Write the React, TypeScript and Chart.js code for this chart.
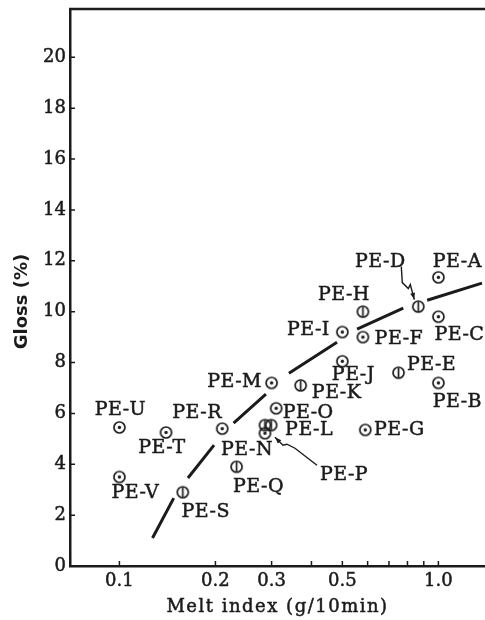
import { useEffect, useRef } from 'react';
import { Chart, registerables } from 'chart.js';

Chart.register(...registerables);

// Polyethylene grades: melt index (g/10min) vs. gloss (%)
const sampleNames = [
  'PE-A', 'PE-B', 'PE-C', 'PE-D', 'PE-E', 'PE-F', 'PE-G', 'PE-H', 'PE-I', 'PE-J', 'PE-K',
  'PE-L', 'PE-M', 'PE-N', 'PE-O', 'PE-P', 'PE-Q', 'PE-R', 'PE-S', 'PE-T', 'PE-U', 'PE-V',
];
const meltIndex = [
  1.0, 1.0, 1.0, 0.865, 0.75, 0.58, 0.59, 0.58, 0.5, 0.5, 0.37,
  0.299, 0.30, 0.286, 0.31, 0.286, 0.233, 0.21, 0.158, 0.14, 0.1, 0.1,
];
const gloss = [
  11.35, 7.2, 9.8, 10.2, 7.6, 9.0, 5.35, 10.0, 9.2, 8.05, 7.1,
  5.54, 7.2, 5.54, 6.2, 5.22, 3.9, 5.4, 2.9, 5.25, 5.45, 3.5,
];
// 'dot' = circle with centre dot, 'bar' = circle with vertical stroke
const markerKinds = [
  'dot', 'dot', 'dot', 'bar', 'bar', 'dot', 'dot', 'bar', 'dot', 'dot', 'bar',
  'bar', 'dot', 'bar', 'dot', 'dot', 'bar', 'dot', 'bar', 'dot', 'dot', 'dot',
];

// Trend curve, broken (null) where it passes the markers
const curveMeltIndex = [
  0.127, 0.148, 0.155, 0.164, 0.198, 0.21, 0.228, 0.288, 0.3,
  0.34, 0.481, 0.5, 0.556, 0.776, 0.85, 0.922, 1.37,
];
const curveGloss = [
  1.1, 2.67, null, 3.46, 4.75, null, 5.62, 6.76, null,
  7.58, 8.8, null, 9.31, 10.14, null, 10.45, 11.12,
];

const xTickValues = [0.1, 0.2, 0.3, 0.5, 1.0];
const xTickMarks = [0.1, 0.2, 0.3, 0.4, 0.5, 0.6, 0.7, 0.8, 0.9, 1.0];
const yTickValues = [0, 2, 4, 6, 8, 10, 12, 14, 16, 18, 20];

const xTitle = 'Melt index (g/10min)';
const yTitle = 'Gloss (%)';

// Label placement relative to each marker (px)
const labelOffsets: Record<string, [number, number]> = {
  'PE-A': [19, -15], 'PE-B': [19, 19], 'PE-C': [21, 18], 'PE-D': [-38, -45],
  'PE-E': [33, -8], 'PE-F': [36, 2], 'PE-G': [34, 0], 'PE-H': [-19, -17],
  'PE-I': [-34, -2], 'PE-J': [11, 14], 'PE-K': [36, 8], 'PE-L': [38, 5],
  'PE-M': [-37, -1], 'PE-N': [-18, 25], 'PE-O': [32, 5], 'PE-P': [79, 42],
  'PE-Q': [22, 20], 'PE-R': [-25, -16], 'PE-S': [23, 20], 'PE-T': [-4, 16],
  'PE-U': [1, -17], 'PE-V': [16, 16],
};

// Leader arrows, polyline offsets from the marker, last point is the tip
const arrows: Record<string, [number, number][]> = {
  'PE-D': [[-17, -40], [-16, -24], [-10, -18], [-8, -22], [-4, -7]],
  'PE-P': [[52, 32], [30, 15], [22, 11], [18, 12], [10, 4]],
};

const INK = '#1b1b1b';
const SERIF = '"DejaVu Serif", "Liberation Serif", serif';

function makeMarker(kind: string): HTMLCanvasElement {
  const c = document.createElement('canvas');
  c.width = 15;
  c.height = 15;
  const ctx = c.getContext('2d')!;
  ctx.strokeStyle = INK;
  ctx.fillStyle = INK;
  ctx.lineWidth = 1.7;
  ctx.beginPath();
  ctx.arc(7.5, 7.5, 5.5, 0, Math.PI * 2);
  ctx.stroke();
  if (kind === 'dot') {
    ctx.beginPath();
    ctx.arc(7.5, 7.5, 1.7, 0, Math.PI * 2);
    ctx.fill();
  } else {
    ctx.beginPath();
    ctx.moveTo(7.5, 2.5);
    ctx.lineTo(7.5, 12.5);
    ctx.stroke();
  }
  return c;
}

function boldText(ctx: CanvasRenderingContext2D, text: string, x: number, y: number) {
  ctx.fillText(text, x, y);
  ctx.lineWidth = 0.5;
  ctx.strokeText(text, x, y);
}

const annotationPlugin = {
  id: 'figureAnnotations',
  afterDraw(chart: any) {
    const { ctx, chartArea } = chart;
    const xs = chart.scales.x;
    const ys = chart.scales.y;
    ctx.save();
    ctx.strokeStyle = INK;
    ctx.fillStyle = INK;

    // top frame line
    ctx.lineWidth = 2.5;
    ctx.beginPath();
    ctx.moveTo(chartArea.left - 1, chartArea.top);
    ctx.lineTo(chartArea.right, chartArea.top);
    ctx.stroke();

    // inward tick marks
    ctx.lineWidth = 1.5;
    ctx.beginPath();
    for (const v of xTickMarks) {
      const px = xs.getPixelForValue(v);
      ctx.moveTo(px, chartArea.bottom);
      ctx.lineTo(px, chartArea.bottom - 5);
    }
    for (const v of yTickValues) {
      const py = ys.getPixelForValue(v);
      ctx.moveTo(chartArea.left, py);
      ctx.lineTo(chartArea.left + 5, py);
    }
    ctx.stroke();

    // tick labels
    ctx.font = `18px ${SERIF}`;
    ctx.textBaseline = 'middle';
    ctx.textAlign = 'right';
    for (const v of yTickValues) {
      boldText(ctx, String(v), chartArea.left - 4, ys.getPixelForValue(v));
    }
    ctx.textAlign = 'center';
    for (const v of xTickValues) {
      boldText(ctx, v.toFixed(1), xs.getPixelForValue(v), chartArea.bottom + 15);
    }

    // point labels
    ctx.font = `19px ${SERIF}`;
    ctx.textAlign = 'center';
    ctx.textBaseline = 'middle';
    (ctx as any).letterSpacing = '0.5px';
    sampleNames.forEach((name, i) => {
      const px = xs.getPixelForValue(meltIndex[i]);
      const py = ys.getPixelForValue(gloss[i]);
      const [dx, dy] = labelOffsets[name];
      boldText(ctx, name, px + dx, py + dy);
    });
    (ctx as any).letterSpacing = '0px';

    // leader arrows
    ctx.lineWidth = 1.4;
    Object.keys(arrows).forEach((name) => {
      const i = sampleNames.indexOf(name);
      const px = xs.getPixelForValue(meltIndex[i]);
      const py = ys.getPixelForValue(gloss[i]);
      const pts = arrows[name].map(([dx, dy]) => [px + dx, py + dy]);
      ctx.beginPath();
      ctx.moveTo(pts[0][0], pts[0][1]);
      for (let k = 1; k < pts.length; k++) ctx.lineTo(pts[k][0], pts[k][1]);
      ctx.stroke();
      const [tx, ty] = pts[pts.length - 1];
      const [bx, by] = pts[pts.length - 2];
      const ang = Math.atan2(ty - by, tx - bx);
      ctx.beginPath();
      ctx.moveTo(tx, ty);
      ctx.lineTo(tx - 7 * Math.cos(ang - 0.35), ty - 7 * Math.sin(ang - 0.35));
      ctx.lineTo(tx - 7 * Math.cos(ang + 0.35), ty - 7 * Math.sin(ang + 0.35));
      ctx.closePath();
      ctx.fill();
    });

    // axis titles
    ctx.font = `18px ${SERIF}`;
    ctx.textAlign = 'center';
    ctx.textBaseline = 'middle';
    (ctx as any).letterSpacing = '1.5px';
    boldText(ctx, xTitle, (chartArea.left + chartArea.right) / 2, 607);

    (ctx as any).letterSpacing = '0px';
    ctx.font = 'bold 18px "DejaVu Sans", sans-serif';
    ctx.translate(22, ys.getPixelForValue(10.4));
    ctx.rotate(-Math.PI / 2);
    ctx.fillText(yTitle, 0, 0);
    ctx.restore();
  },
};

export default function App() {
  const canvasRef = useRef<HTMLCanvasElement | null>(null);

  useEffect(() => {
    const canvas = canvasRef.current;
    if (!canvas) return;

    const points = meltIndex.map((x, i) => ({ x, y: gloss[i] }));
    const curve = curveMeltIndex.map((x, i) => ({ x, y: curveGloss[i] }));
    const markers = markerKinds.map((k) => makeMarker(k));

    const chart = new Chart(canvas, {
      type: 'scatter',
      data: {
        datasets: [
          {
            type: 'line',
            data: curve as any,
            borderColor: INK,
            borderWidth: 3,
            pointRadius: 0,
            spanGaps: false,
            fill: false,
            tension: 0,
          },
          {
            data: points,
            pointStyle: markers as any,
            pointRadius: 6,
          },
        ],
      },
      plugins: [annotationPlugin],
      options: {
        animation: false,
        responsive: true,
        maintainAspectRatio: false,
        layout: { autoPadding: false, padding: { top: 9, left: 0, right: 0, bottom: 0 } },
        plugins: { legend: { display: false }, tooltip: { enabled: false } },
        scales: {
          x: {
            type: 'logarithmic',
            min: 0.07,
            max: 1.4,
            grid: { display: false, drawTicks: false },
            border: { display: true, color: INK, width: 2.5 },
            afterBuildTicks: (scale: any) => {
              scale.ticks = xTickValues.map((value) => ({ value }));
            },
            afterFit: (scale: any) => {
              scale.height = 54;
            },
            ticks: { display: false },
          },
          y: {
            min: 0,
            max: 21.9,
            grid: { display: false, drawTicks: false },
            border: { display: true, color: INK, width: 2.5 },
            afterBuildTicks: (scale: any) => {
              scale.ticks = yTickValues.map((value) => ({ value }));
            },
            afterFit: (scale: any) => {
              scale.width = 70;
            },
            ticks: { display: false },
          },
        },
      },
    });

    return () => chart.destroy();
  }, []);

  return (
    <div style={{ position: 'fixed', left: 0, top: 0, width: 485, height: 620, background: '#fff' }}>
      <canvas ref={canvasRef} />
    </div>
  );
}
